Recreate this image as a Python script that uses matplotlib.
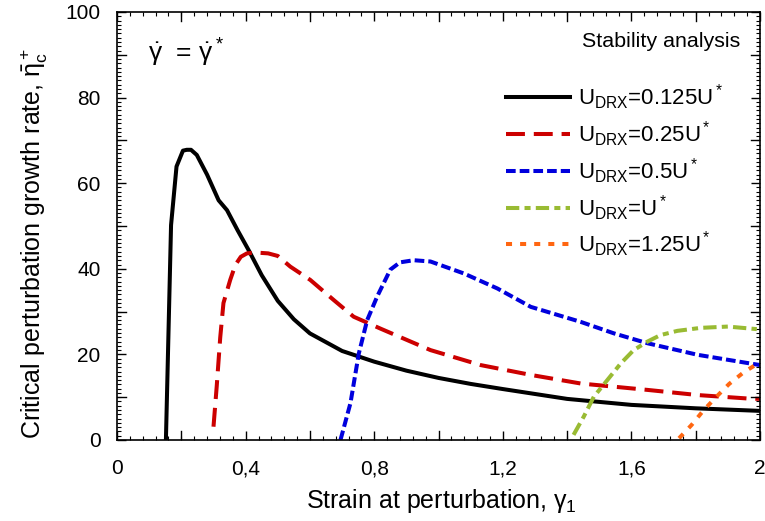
import matplotlib
matplotlib.use('Agg')
import matplotlib.pyplot as plt
from matplotlib.ticker import MultipleLocator

plt.rcParams['font.family'] = ['Liberation Sans', 'DejaVu Sans']
plt.rcParams['mathtext.fontset'] = 'custom'
plt.rcParams['mathtext.rm'] = 'Liberation Sans'
plt.rcParams['mathtext.it'] = 'Liberation Sans'
plt.rcParams['mathtext.bf'] = 'Liberation Sans'

# U_DRX = 0.125 U*
x_0125 = [0.152, 0.168, 0.185, 0.205, 0.217, 0.23, 0.248, 0.28, 0.316, 0.342,
          0.375, 0.409, 0.45, 0.5, 0.55, 0.6, 0.7, 0.8, 0.9, 1.0,
          1.1, 1.2, 1.4, 1.6, 1.8, 2.0]
y_0125 = [0.0, 50.2, 63.9, 67.6, 67.8, 67.8, 66.6, 62.0, 56.0, 53.7,
          49.0, 44.4, 38.5, 32.5, 28.2, 24.9, 20.8, 18.3, 16.2, 14.5,
          13.1, 11.9, 9.6, 8.2, 7.4, 6.8]

# U_DRX = 0.25 U*
x_025 = [0.30, 0.31, 0.321, 0.331, 0.352, 0.368, 0.385, 0.404, 0.43, 0.47,
         0.50, 0.539, 0.601, 0.674, 0.736, 0.82, 0.975, 1.131, 1.287,
         1.442, 1.65, 1.806, 1.96, 2.0]
y_025 = [3.1, 12.5, 24.0, 32.0, 37.4, 40.9, 42.8, 43.6, 43.8, 43.6,
         43.0, 40.5, 37.4, 32.7, 28.8, 26.0, 21.0, 17.5, 15.2,
         13.2, 11.7, 10.5, 9.7, 9.6]

# U_DRX = 0.5 U*
x_05 = [0.695, 0.726, 0.752, 0.778, 0.809, 0.82, 0.85, 0.88, 0.923, 0.975,
        1.079, 1.183, 1.287, 1.442, 1.546, 1.65, 1.806, 2.0]
y_05 = [0.0, 8.6, 20.2, 28.0, 33.5, 35.2, 39.8, 41.5, 42.0, 41.7,
        38.9, 35.4, 31.1, 27.6, 24.9, 22.6, 19.9, 17.5]

# U_DRX = U*
x_1 = [1.42, 1.452, 1.483, 1.525, 1.567, 1.607, 1.65, 1.69, 1.743, 1.816,
       1.9, 1.99]
y_1 = [1.2, 5.5, 10.1, 14.0, 17.9, 21.0, 23.0, 24.5, 25.5, 26.2,
       26.5, 25.9]

# U_DRX = 1.25 U*
x_125 = [1.748, 1.787, 1.824, 1.863, 1.904, 1.949, 1.998]
y_125 = [0.4, 3.5, 6.9, 10.0, 13.1, 15.8, 18.1]

labels = [r'U$_{\rm DRX}$=0.125U$^{\bf *}$', r'U$_{\rm DRX}$=0.25U$^{\bf *}$',
          r'U$_{\rm DRX}$=0.5U$^{\bf *}$', r'U$_{\rm DRX}$=U$^{\bf *}$',
          r'U$_{\rm DRX}$=1.25U$^{\bf *}$']

xticks = [0, 0.4, 0.8, 1.2, 1.6, 2.0]
xticklabels = ['0', '0,4', '0,8', '1,2', '1,6', '2']
yticks = [0, 20, 40, 60, 80, 100]
xmid = [0.2, 0.6, 1.0, 1.4, 1.8]
ymid = [10, 30, 50, 70, 90]

fig = plt.figure(figsize=(7.65, 5.21), dpi=100)
ax = fig.add_axes([0.153, 0.1555, 0.8405, 0.8215])

lw = 2.9
ax.plot(x_0125, y_0125, color='black', lw=lw, solid_joinstyle='round', label=labels[0])
ax.plot(x_025, y_025, color='#cc0000', lw=lw, dashes=(4.7, 2.2), label=labels[1])
ax.plot(x_05, y_05, color='#0000dd', lw=lw, dashes=(2.4, 1.0), label=labels[2])
ax.plot(x_1, y_1, color='#99bb33', lw=lw, dashes=(3.3, 1.3, 1.5, 1.3), label=labels[3])
ax.plot(x_125, y_125, color='#ff6611', lw=lw, dashes=(1.5, 2.0), label=labels[4])

ax.set_xlim(0, 2)
ax.set_ylim(0, 100)
ax.set_xticks(xticks)
ax.set_xticklabels(xticklabels)
ax.set_yticks(yticks)
ax.xaxis.set_minor_locator(MultipleLocator(0.04))
ax.yaxis.set_minor_locator(MultipleLocator(1))
ax.tick_params(which='both', direction='in', top=True, right=True, labelsize=15)
ax.tick_params(which='minor', length=3.2, width=0.8)
ax.tick_params(which='major', length=6.5, width=1.0)
ax.tick_params(axis='x', which='major', pad=14)
ax.tick_params(axis='y', which='major', pad=12)
for sp in ax.spines.values():
    sp.set_linewidth(1.2)

# unlabelled mid ticks drawn at major length
for xm in xmid:
    ax.axvline(xm, ymin=0, ymax=6.5 * 1.389 / 428, color='black', lw=1.0)
    ax.axvline(xm, ymin=1 - 6.5 * 1.389 / 428, ymax=1, color='black', lw=1.0)
for ym in ymid:
    ax.axhline(ym, xmin=0, xmax=6.5 * 1.389 / 643, color='black', lw=1.0)
    ax.axhline(ym, xmin=1 - 6.5 * 1.389 / 643, xmax=1, color='black', lw=1.0)

ax.set_xlabel(r'Strain at perturbation, $\gamma_{\rm 1}$', fontsize=18)
ax.xaxis.set_label_coords(0.505, -0.11)
ax.set_ylabel(r'Critical perturbation growth rate, $\bar{\rm \eta}_{\rm c}^{\bf +}$',
              fontsize=18)
ax.yaxis.set_label_coords(-0.104, 0.46)

ax.text(0.048, 0.905, r'$\dot{\gamma}$  = $\dot{\gamma}^{\bf *}$', transform=ax.transAxes,
        fontsize=19, va='center', ha='left')
ax.text(0.969, 0.932, 'Stability analysis', transform=ax.transAxes,
        fontsize=15.4, va='center', ha='right')

ax.legend(loc='upper left', bbox_to_anchor=(0.591, 0.856), frameon=False,
          fontsize=16, handlelength=2.9, handletextpad=0.36, labelspacing=0.33,
          borderaxespad=0.0)

fig.savefig('out.png', dpi=100)
